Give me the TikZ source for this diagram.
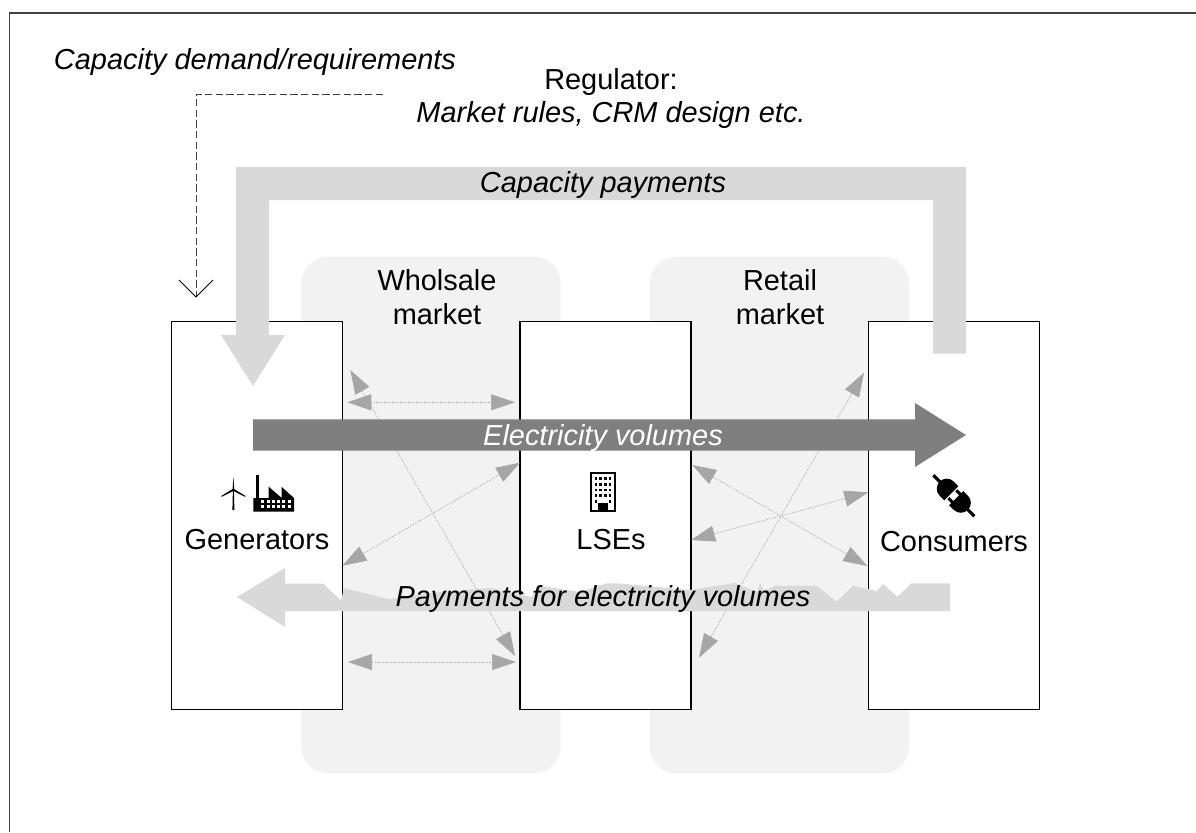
\documentclass[tikz,border=0pt]{standalone}
\usepackage{fontspec}
\setmainfont{Liberation Sans}
\usetikzlibrary{arrows.meta}
\definecolor{bandgrey}{HTML}{D9D9D9}
\definecolor{marketgrey}{HTML}{F2F2F2}
\definecolor{flowgrey}{HTML}{7F7F7F}
\definecolor{tipgrey}{HTML}{A6A6A6}
\tikzset{
  actorbox/.style={draw=black,line width=1.1pt,fill=white,minimum width=128.25pt,minimum height=291pt,inner sep=0pt,outer sep=0pt},
  marketbox/.style={fill=marketgrey,rounded corners=20pt,minimum width=194.5pt,minimum height=387.5pt,inner sep=0pt,outer sep=0pt},
  lbl/.style={font=\fontsize{21.7}{25}\selectfont,inner sep=0pt,anchor=base,text=black},
  ilbl/.style={lbl,font=\fontsize{21.7}{25}\selectfont\itshape},
  trade/.style={tipgrey,line width=0.5pt,dash pattern=on 1pt off 1pt,
    {Triangle[length=18pt,width=12pt,color=tipgrey,sep=0pt]}-{Triangle[length=18pt,width=12pt,color=tipgrey]}},
  demand/.style={draw=black!75,line width=0.75pt,dash pattern=on 5.5pt off 2.5pt},
  vtip/.style={draw=black,line width=0.6pt}
}
\begin{document}
\begin{tikzpicture}[x=0.75pt,y=-0.75pt]
\useasboundingbox (0,0) rectangle (1196,832);
\draw[black!75,line width=1.2pt] (9.5,832) -- (9.5,13) -- (1196,13);

% market backgrounds
\node[marketbox] (whole) at (431,515) {};
\node[marketbox] (retail) at (779.5,515) {};

% actor boxes
\node[actorbox] (gen) at (257,515.5) {};
\node[actorbox] (lse) at (605.5,515.5) {};
\node[actorbox] (con) at (954,515.5) {};

% trade arrows
\coordinate (a1) at (347.3,402.3); \coordinate (a2) at (515,402.3);
\coordinate (b1) at (348,662);     \coordinate (b2) at (516,662);
\coordinate (c1) at (350.3,370);   \coordinate (c2) at (515,656);
\coordinate (d1) at (520,462.7);   \coordinate (d2) at (342.5,565.7);
\coordinate (e1) at (864,372.7);   \coordinate (e2) at (699,657.7);
\coordinate (f1) at (692.3,465);   \coordinate (f2) at (867.3,566);
\coordinate (g1) at (868.3,492.3); \coordinate (g2) at (691,540);
\foreach \p/\q in {a1/a2,b1/b2,c1/c2,d1/d2,e1/e2,f1/f2,g1/g2}
  \draw[trade] (\p) -- (\q);

% capacity payments
\fill[bandgrey] (966,353.7) -- (966,167) -- (236,167) -- (236,335) -- (221,335)
  -- (253,386) -- (285,335) -- (269,335) -- (269,200) -- (933,200) -- (933,353.7) -- cycle;

% electricity volumes
\fill[flowgrey] (253,419.3) -- (915,419.3) -- (915,403) -- (966,435) -- (915,467)
  -- (915,450.7) -- (253,450.7) -- cycle;

% payments for electricity
\fill[bandgrey] (237,597) -- (285,568) -- (285,583.5) -- (323,583.5) -- (341,600.5)
  -- (344,588) -- (388,599) -- (440,592) -- (490,588) -- (531,597) -- (541.7,586)
  -- (580,592) -- (606.7,583.3) -- (616.7,583.3) -- (690,590) -- (735,583)
  -- (757,592) -- (760,583) -- (764,591) -- (775,585.7) -- (816.7,586) -- (836.7,601.7)
  -- (853,585.7) -- (876.7,591) -- (883,584) -- (897.7,596.7) -- (911,583.3)
  -- (950,583.3) -- (950,611) -- (285,611) -- (285,627) -- cycle;

% dashed demand line
\coordinate (dm0) at (383,94); \coordinate (dm1) at (196,94); \coordinate (dm2) at (196,297);
\coordinate (dm3) at (179,280); \coordinate (dm4) at (213,280);
\draw[demand] (dm0) -- (dm1) -- (dm2);
\draw[vtip] (dm3) -- (dm2) -- (dm4);

% labels
\node[ilbl] (t1) at (255,69) {Capacity demand/requirements};
\node[lbl]  (t2) at (611,89) {Regulator:};
\node[ilbl] (t3) at (611,122) {Market rules, CRM design etc.};
\node[ilbl] (t4) at (603,192) {Capacity payments};
\node[lbl]  (t5) at (437,290) {Wholsale};
\node[lbl]  (t6) at (437,324) {market};
\node[lbl]  (t7) at (780,290) {Retail};
\node[lbl]  (t8) at (780,324) {market};
\node[ilbl,text=white] (t9) at (603,445) {Electricity volumes};
\node[ilbl] (t10) at (603,606) {Payments for electricity volumes};
\node[lbl]  (t11) at (257,549) {Generators};
\node[lbl]  (t12) at (611,549) {LSEs};
\node[lbl]  (t13) at (954,551) {Consumers};

% wind turbine
\fill[black] (232.4,510) -- (232.9,490) -- (233.9,490) -- (234.4,510) -- cycle;
\fill[black] (233.4,477) -- (234.2,489) -- (245.5,496) -- (245,496.8) -- (233.4,491) -- (221.8,496.8) -- (221.3,496) -- (232.6,489) -- cycle;

% factory
\fill[black] (256,475) rectangle (258.7,498);
\fill[black] (253.3,498) -- (268.7,498) -- (268.7,486.7) -- (281.7,498) -- (281.7,487) -- (294,498)
  -- (294,511.7) -- (253.3,511.7) -- cycle;
\foreach \wx in {262.7,268,273.3,278.6,283.9,289.2}
  \foreach \wy in {501.3,506.8}
    \fill[white] (\wx-1.5,\wy-1.4) rectangle (\wx+1.5,\wy+1.4);

% building
\draw[black,line width=1.5pt] (590.5,472.5) rectangle (614.5,510.7);
\foreach \wx in {596,600.7,605.4,610.1}
  \foreach \wy in {478.5,484.3,490,495.7}
    \fill[black] (\wx-1.3,\wy-1.3) rectangle (\wx+1.3,\wy+1.3);
\foreach \wx in {596,610.1}
  \fill[black] (\wx-1.3,500.4) rectangle (\wx+1.3,503);
\fill[black] (598,502.5) rectangle (608,511.5);

% plug
\begin{scope}[shift={(953.8,495.7)},rotate=-45]
  \fill[black] (-29,-1.6) rectangle (-18,1.6);
  \fill[black] (-3.5,-10) -- (-10,-10) .. controls (-16,-10) and (-20,-5) .. (-20,0)
     .. controls (-20,5) and (-16,10) .. (-10,10) -- (-3.5,10) -- cycle;
  \fill[black] (29,-1.6) rectangle (18,1.6);
  \fill[black] (3.5,-10) -- (10,-10) .. controls (16,-10) and (20,-5) .. (20,0)
     .. controls (20,5) and (16,10) .. (10,10) -- (3.5,10) -- cycle;
  \fill[black] (-2,-7) rectangle (5,-4);
  \fill[black] (-2,4) rectangle (5,7);
\end{scope}
\end{tikzpicture}
\end{document}
